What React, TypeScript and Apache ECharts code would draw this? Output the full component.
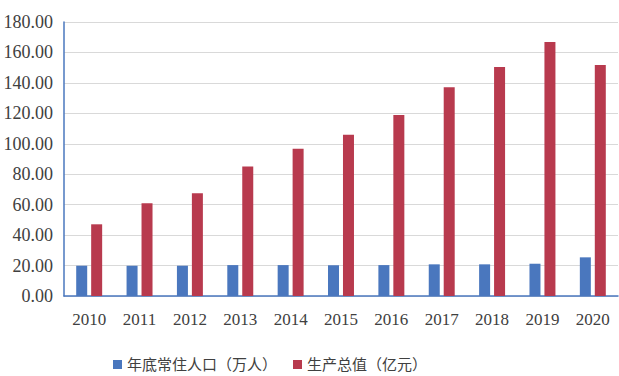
import React, { useEffect, useRef } from "react";
import * as echarts from "echarts";

const categories = ["2010", "2011", "2012", "2013", "2014", "2015", "2016", "2017", "2018", "2019", "2020"];
const population = [19.9, 19.9, 19.9, 20.3, 20.3, 20.2, 20.3, 20.8, 20.8, 21.2, 25.4];
const gdp = [47.1, 60.9, 67.5, 85.0, 96.8, 106.0, 118.9, 137.1, 150.5, 166.9, 151.8];
const seriesNames = ["年底常住人口（万人）", "生产总值（亿元）"];

export default function App() {
  const ref = useRef<HTMLDivElement>(null);
  useEffect(() => {
    document.body.style.margin = "0";
    const chart = echarts.init(ref.current!, undefined, { renderer: "svg" });
    const font = "'Liberation Serif'";
    chart.setOption({
      animation: false,
      backgroundColor: "#ffffff",
      grid: { left: 64, right: 1, top: 22, bottom: 80 },
      legend: {
        top: 352,
        left: 108,
        itemWidth: 9,
        itemHeight: 9,
        itemGap: 16,
        icon: "rect",
        textStyle: { fontFamily: "'Liberation Serif', 'Noto Sans CJK SC'", fontSize: 15, color: "#404040" },
        data: seriesNames,
      },
      xAxis: {
        type: "category",
        data: categories,
        axisLine: { lineStyle: { color: "#4A77BE", width: 1.5 } },
        axisTick: { show: false },
        axisLabel: { fontFamily: font, fontSize: 17, color: "#404040", margin: 15 },
      },
      yAxis: {
        type: "value",
        min: 0,
        max: 180,
        interval: 20,
        axisLine: { show: true, lineStyle: { color: "#4A77BE", width: 1.5 } },
        axisTick: { show: false },
        splitLine: { lineStyle: { color: "#D9D9D9", width: 1 } },
        axisLabel: {
          fontFamily: font,
          fontSize: 18,
          color: "#404040",
          margin: 11,
          formatter: (v: number) => v.toFixed(2),
        },
      },
      series: [
        {
          name: seriesNames[0],
          type: "bar",
          data: population,
          barWidth: 11,
          barGap: "36%",
          itemStyle: { color: "#4A77BE" },
        },
        {
          name: seriesNames[1],
          type: "bar",
          data: gdp,
          barWidth: 11,
          itemStyle: { color: "#B83A4E" },
        },
      ],
    });
    return () => chart.dispose();
  }, []);
  return <div ref={ref} style={{ width: 619, height: 376 }} />;
}
